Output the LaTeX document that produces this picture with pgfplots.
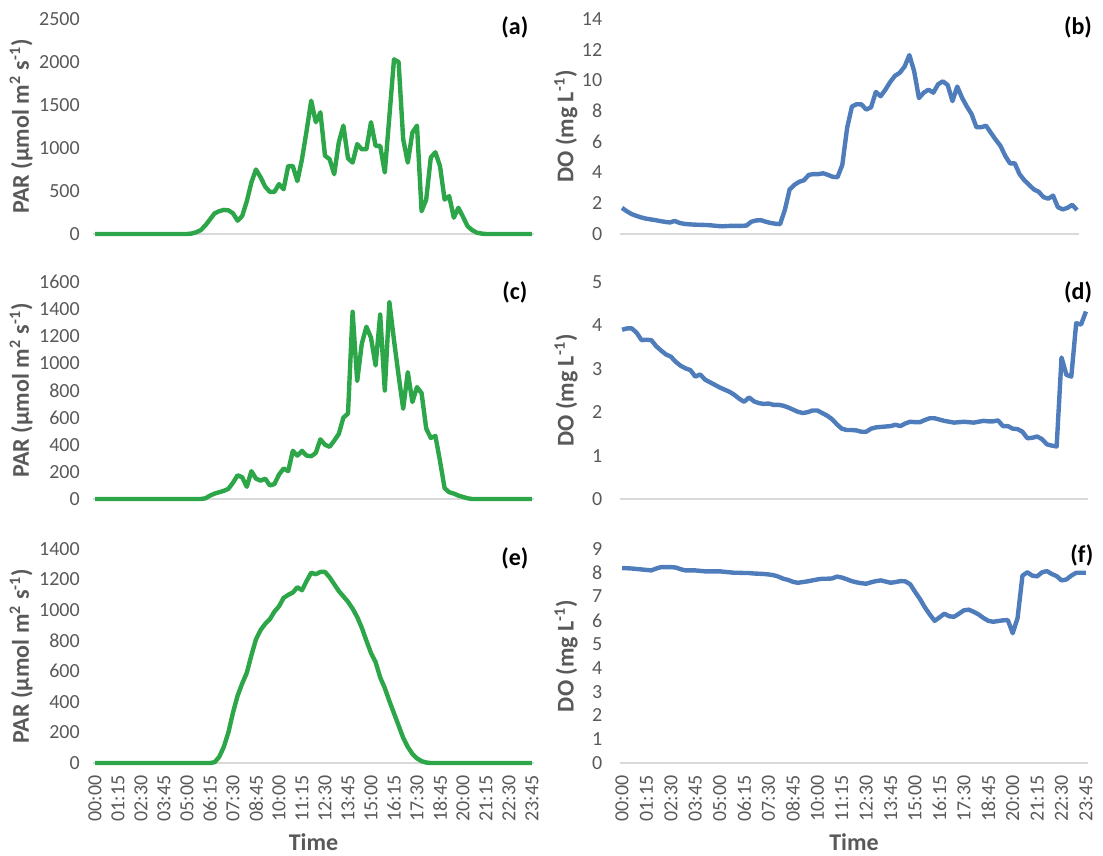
\documentclass[border=0pt]{standalone}
\usepackage{fontspec}
\setmainfont{Carlito}
\usepackage{pgfplots}
\usepackage{pgfplotstable}
\pgfplotsset{compat=1.18}
\definecolor{pgreen}{RGB}{44,166,72}
\definecolor{pblue}{RGB}{79,124,186}
\definecolor{tgray}{RGB}{89,89,89}
\definecolor{lgray}{RGB}{217,217,217}

\pgfplotstableread{
i a b c d e f
0 0 1.70 0 3.90 0 8.20
1 0 1.48 0 3.93 0 8.19
2 0 1.30 0 3.93 0 8.18
3 0 1.18 0 3.83 0 8.16
4 0 1.08 0 3.66 0 8.14
5 0 1.00 0 3.67 0 8.12
6 0 0.95 0 3.66 0 8.10
7 0 0.90 0 3.52 0 8.18
8 0 0.84 0 3.42 0 8.24
9 0 0.79 0 3.33 0 8.24
10 0 0.75 0 3.28 0 8.24
11 0 0.85 0 3.16 0 8.22
12 0 0.72 0 3.07 0 8.15
13 0 0.66 0 3.01 0 8.10
14 0 0.63 0 2.97 0 8.10
15 0 0.61 0 2.82 0 8.10
16 0 0.60 0 2.87 0 8.08
17 0 0.59 0 2.75 0 8.06
18 0 0.58 0 2.69 0 8.06
19 0 0.55 0 2.63 0 8.06
20 0 0.52 0 2.57 0 8.06
21 5 0.50 0 2.52 0 8.04
22 20 0.52 0 2.47 0 8.02
23 45 0.53 0 2.40 0 8.00
24 100 0.53 5 2.31 0 8.00
25 170 0.53 25 2.24 0 7.99
26 240 0.55 40 2.34 5 7.99
27 265 0.80 50 2.25 40 7.97
28 280 0.88 60 2.21 105 7.96
29 275 0.90 75 2.19 200 7.95
30 240 0.80 120 2.20 330 7.93
31 155 0.72 175 2.17 440 7.90
32 210 0.67 160 2.17 520 7.84
33 380 0.64 90 2.15 590 7.75
34 600 1.56 205 2.11 705 7.70
35 750 2.90 150 2.06 810 7.62
36 660 3.20 135 2.01 870 7.58
37 550 3.40 150 1.98 910 7.61
38 490 3.50 100 2.00 940 7.64
39 490 3.85 110 2.04 990 7.68
40 580 3.90 180 2.04 1025 7.72
41 520 3.90 225 1.98 1080 7.75
42 790 3.95 205 1.92 1100 7.75
43 790 3.85 355 1.84 1115 7.76
44 615 3.72 320 1.72 1150 7.84
45 870 3.70 355 1.62 1130 7.80
46 1200 4.50 320 1.59 1190 7.73
47 1550 6.90 315 1.59 1245 7.65
48 1300 8.30 340 1.58 1235 7.60
49 1415 8.45 440 1.55 1250 7.56
50 910 8.44 400 1.55 1250 7.54
51 870 8.10 385 1.62 1215 7.60
52 695 8.25 430 1.65 1170 7.65
53 1065 9.25 480 1.66 1125 7.68
54 1260 8.97 600 1.67 1090 7.63
55 880 9.40 630 1.68 1055 7.58
56 830 9.90 1380 1.71 1010 7.61
57 1045 10.30 870 1.68 955 7.65
58 985 10.50 1145 1.74 885 7.64
59 985 10.90 1270 1.78 800 7.52
60 1300 11.65 1190 1.77 720 7.20
61 1025 10.60 985 1.77 660 6.90
62 1025 8.85 1360 1.82 560 6.55
63 715 9.20 800 1.86 490 6.25
64 1370 9.40 1450 1.86 405 5.98
65 2030 9.20 1170 1.83 325 6.12
66 2000 9.75 910 1.80 245 6.28
67 1100 9.94 665 1.78 165 6.17
68 830 9.70 935 1.76 105 6.15
69 1180 8.65 715 1.77 60 6.28
70 1260 9.60 825 1.78 30 6.42
71 265 8.87 780 1.77 12 6.45
72 400 8.30 520 1.76 3 6.36
73 890 7.80 450 1.78 0 6.25
74 950 6.95 465 1.80 0 6.10
75 790 6.95 280 1.79 0 5.98
76 400 7.05 80 1.79 0 5.94
77 440 6.60 50 1.81 0 5.97
78 190 6.15 40 1.68 0 6.00
79 305 5.75 25 1.68 0 6.01
80 200 5.10 15 1.62 0 5.46
81 90 4.60 5 1.61 0 6.10
82 45 4.60 0 1.55 0 7.88
83 15 3.90 0 1.40 0 8.02
84 5 3.50 0 1.41 0 7.88
85 0 3.20 0 1.44 0 7.85
86 0 2.90 0 1.38 0 8.02
87 0 2.75 0 1.26 0 8.07
88 0 2.40 0 1.23 0 7.95
89 0 2.30 0 1.21 0 7.86
90 0 2.50 0 3.26 0 7.68
91 0 1.75 0 2.86 0 7.72
92 0 1.60 0 2.82 0 7.88
93 0 1.70 0 4.05 0 8.00
94 0 1.90 0 4.02 0 8.00
95 0 1.56 0 4.32 0 8.00
}\data

\pgfplotsset{
  panel/.style={
    scale only axis, xmin=-0.5, xmax=95.5, ymin=0,
    axis x line=bottom, axis y line=left,
    axis line style={-},
    x axis line style={draw=lgray, line width=0.8pt},
    y axis line style={draw=none},
    major tick length=0pt,
    xtick={0,5,...,95},
    xticklabels={},
    tick label style={font=\fontsize{10}{12}\selectfont, text=tgray},
    /pgf/number format/assume math mode=true,
    /pgf/number format/1000 sep={},
    yticklabel style={anchor=east, inner sep=0pt},
    ylabel style={font=\bfseries\fontsize{12}{14}\selectfont, text=tgray, anchor=center},
    clip=false,
  },
  leftp/.style={panel, width=220.8pt,
    yticklabel style={xshift=-6.3pt},
    ylabel={PAR (µmol m\textsuperscript{2} s\textsuperscript{-1})},
    ylabel style={at={(axis description cs:-0.162,0.5)}}},
  rightp/.style={panel, width=234.4pt,
    yticklabel style={xshift=-8.5pt},
    ylabel={DO (mg L\textsuperscript{-1})},
    ylabel style={at={(axis description cs:-0.114,0.5)}}},
  bottomp/.style={
    xticklabels={00:00,01:15,02:30,03:45,05:00,06:15,07:30,08:45,10:00,11:15,12:30,13:45,15:00,16:15,17:30,18:45,20:00,21:15,22:30,23:45},
    xticklabel style={rotate=90, anchor=east, inner sep=0pt, xshift=-6pt},
    xlabel={Time},
    xlabel style={font=\bfseries\fontsize{12}{14}\selectfont, text=tgray, at={(axis description cs:0.5,-0.368)}, anchor=center, inner sep=0pt}},
  gline/.style={pgreen, line width=2.2pt, line join=round},
  bline/.style={pblue, line width=2.2pt, line join=round},
}
\newcommand{\plab}[3]{\node[font=\bfseries\fontsize{12}{14}\selectfont, text=black] at (axis description cs:#1,#2) {#3};}

\begin{document}
\begin{tikzpicture}
\useasboundingbox (0,0) rectangle (551.5pt,428pt);
% (a)
\begin{axis}[leftp, at={(46.35pt,311pt)}, anchor=south west, height=107.5pt, ymax=2500, ytick={0,500,...,2500}]
\addplot[gline] table[x=i, y=a] {\data};
\plab{0.956}{0.963}{(a)}
\end{axis}
% (b)
\begin{axis}[rightp, width=229.9pt, at={(309.8pt,311pt)}, anchor=south west, height=107.5pt, ymax=14, ytick={0,2,...,14},
  ylabel style={at={(axis description cs:-0.117,0.5)}}]
\addplot[bline] table[x=i, y=b] {\data};
\plab{0.997}{0.963}{(b)}
\end{axis}
% (c)
\begin{axis}[leftp, at={(46.35pt,178.5pt)}, anchor=south west, height=108.5pt, ymax=1600, ytick={0,200,...,1600}]
\addplot[gline] table[x=i, y=c] {\data};
\plab{0.956}{0.95}{(c)}
\end{axis}
% (d)
\begin{axis}[rightp, at={(309.8pt,178.5pt)}, anchor=south west, height=108.5pt, ymax=5, ytick={0,1,...,5}]
\addplot[bline] table[x=i, y=d] {\data};
\plab{0.978}{0.95}{(d)}
\end{axis}
% (e)
\begin{axis}[leftp, bottomp, at={(46.35pt,46.5pt)}, anchor=south west, height=107pt, ymax=1400, ytick={0,200,...,1400}]
\addplot[gline] table[x=i, y=e] {\data};
\plab{0.956}{0.958}{(e)}
\end{axis}
% (f)
\begin{axis}[rightp, bottomp, at={(309.8pt,46.5pt)}, anchor=south west, height=107pt, ymax=9, ytick={0,1,...,9}]
\addplot[bline] table[x=i, y=f] {\data};
\plab{0.986}{0.97}{(f)}
\end{axis}
\end{tikzpicture}
\end{document}
